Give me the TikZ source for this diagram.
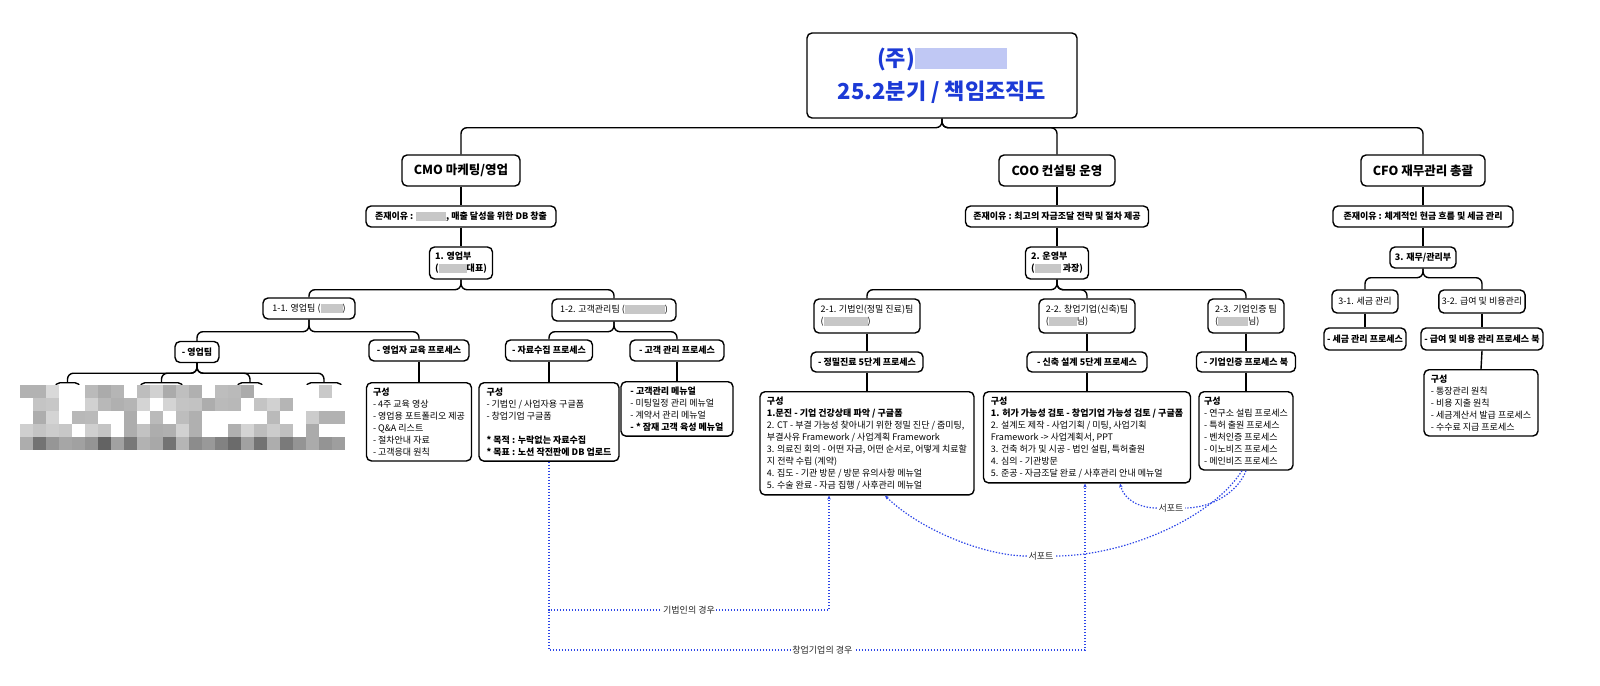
\documentclass[tikz,border=0pt]{standalone}
\usepackage{fontspec}
\setmainfont{Noto Sans CJK KR}
\usetikzlibrary{arrows.meta}
\definecolor{ttl}{RGB}{28,58,214}
\definecolor{dotc}{RGB}{45,70,232}
\newcommand{\fs}{\fontsize{9}{12}\selectfont}
\newcommand{\blurg}[1]{\textcolor{black!22}{\rule[-1.5pt]{#1pt}{9pt}}}
\begin{document}
\begin{tikzpicture}[x=1pt,y=-1pt,
  box/.style={draw, line width=1.4pt, rounded corners=5pt, fill=white, inner ysep=0pt, inner xsep=3pt, align=center},
  bbox/.style={box, font=\bfseries\fs, minimum height=21pt},
  nbox/.style={box, font=\fs, align=left},
  head/.style={box, font=\bfseries\fontsize{12.5}{14}\selectfont, minimum height=31pt},
  gbox/.style={draw, line width=1.4pt, rounded corners=5pt, fill=white, inner xsep=5pt, inner ysep=5pt, font=\fs, align=left, anchor=north},
  edge/.style={line width=1.4pt, rounded corners=6pt},
  dotl/.style={draw=dotc, line width=1.2pt, dash pattern=on 1.4pt off 1.6pt},
  tip/.style={-{Stealth[length=4pt,width=3.5pt]}},
  lbl/.style={fill=white, inner sep=1.5pt, font=\fs, text=black!85}]
\fill[white] (0,0) rectangle (1600,685);
\useasboundingbox (0,0) rectangle (1600,685);

% title
\node[box, minimum width=270pt, minimum height=85pt, font=\bfseries\fontsize{22}{33}\selectfont, text=ttl] (title) at (942,75.5)
  {(주)\textcolor{ttl!28}{\rule[-3pt]{92pt}{21pt}}\\25.2분기 / 책임조직도};

% heads
\node[head, minimum width=118pt] (cmo) at (461,170.5) {CMO 마케팅/영업};
\node[head, minimum width=116pt] (coo) at (1057,170.5) {COO 컨설팅 운영};
\node[head, minimum width=124pt] (cfo) at (1423,170.5) {CFO 재무관리 총괄};

% reasons
\node[bbox, minimum width=190pt] (cmoR) at (461,216.5) {존재이유 : \blurg{30}, 매출 달성을 위한 DB 창출};
\node[bbox, minimum width=183pt] (cooR) at (1057,216.5) {존재이유 : 최고의 자금조달 전략 및 절차 제공};
\node[bbox, minimum width=180pt] (cfoR) at (1423,216.5) {존재이유 : 체계적인 현금 흐름 및 세금 관리};

% departments
\node[box, font=\bfseries\fs, align=left, minimum width=63pt, minimum height=32pt] (d1) at (461,263) {1. 영업부\\(\blurg{28}대표)};
\node[box, font=\bfseries\fs, align=left, minimum width=63pt, minimum height=32pt] (d2) at (1057,263) {2. 운영부\\(\blurg{26} 과장)};
\node[bbox, minimum width=66pt] (d3) at (1423,257.5) {3. 재무/관리부};

% teams
\node[nbox, minimum width=92pt, minimum height=21pt] (t11) at (309,308.5) {1-1. 영업팀 (\blurg{22})};
\node[nbox, minimum width=124pt, minimum height=22pt] (t12) at (614,310) {1-2. 고객관리팀 (\blurg{40})};
\node[nbox, minimum width=106pt, minimum height=34pt] (t21) at (867,316) {2-1. 기법인(정밀 진료)팀\\(\blurg{44})};
\node[nbox, minimum width=96pt, minimum height=34pt] (t22) at (1087,316) {2-2. 창업기업(신축)팀\\(\blurg{28}님)};
\node[nbox, minimum width=76pt, minimum height=34pt] (t23) at (1246,316) {2-3. 기업인증 팀\\(\blurg{30}님)};
\node[nbox, minimum width=66pt, minimum height=23pt] (t31) at (1365,301.5) {3-1. 세금 관리};
\node[nbox, minimum width=78pt, minimum height=23pt] (t32) at (1482,301.5) {3-2. 급여 및 비용관리};

% process boxes
\node[bbox, minimum width=44pt] (p11a) at (197,352) {- 영업팀};
\node[bbox, minimum width=100pt] (p11b) at (419,350.5) {- 영업자 교육 프로세스};
\node[bbox, minimum width=87pt] (p12a) at (549,350.5) {- 자료수집 프로세스};
\node[bbox, minimum width=94pt] (p12b) at (677,350.5) {- 고객 관리 프로세스};
\node[bbox, minimum width=112pt, minimum height=20pt] (p21) at (867,362) {- 정밀진료 5단계 프로세스};
\node[bbox, minimum width=120pt, minimum height=20pt] (p22) at (1087,362) {- 신축 설계 5단계 프로세스};
\node[bbox, minimum width=99pt, minimum height=20pt] (p23) at (1246,362) {- 기업인증 프로세스 북};
\node[bbox, minimum width=82pt, minimum height=22pt] (p31) at (1365,339) {- 세금 관리 프로세스};
\node[bbox, minimum width=122pt, minimum height=22pt] (p32) at (1482,339) {- 급여 및 비용 관리 프로세스 북};

% detail boxes
\node[gbox, minimum width=105pt] (c11b) at (419,382) {\textbf{구성}\\- 4주 교육 영상\\- 영업용 포트폴리오 제공\\- Q\&A 리스트\\- 절차안내 자료\\- 고객응대 원칙};
\node[gbox, minimum width=140pt] (c12a) at (549,382) {\textbf{구성}\\- 기법인 / 사업자용 구글폼\\- 창업기업 구글폼\\[12pt]\textbf{* 목적 : 누락없는 자료수집}\\\textbf{* 목표 : 노션 작전판에 DB 업로드}};
\node[gbox, minimum width=112pt] (c12b) at (677,381) {\textbf{- 고객관리 메뉴얼}\\- 미팅일정 관리 메뉴얼\\- 계약서 관리 메뉴얼\\\textbf{- * 잠재 고객 육성 메뉴얼}};
\node[gbox, minimum width=214pt] (c21) at (867,391) {\textbf{구성}\\\textbf{1.문진 - 기업 건강상태 파악 / 구글폼}\\2. CT - 부결 가능성 찾아내기 위한 정밀 진단 / 줌미팅,\\부결사유 Framework / 사업계획 Framework\\3. 의료진 회의 - 어떤 자금, 어떤 순서로, 어떻게 치료할\\지 전략 수립 (계약)\\4. 집도 - 기관 방문 / 방문 유의사항 메뉴얼\\5. 수술 완료 - 자금 집행 / 사후관리 메뉴얼};
\node[gbox, minimum width=207pt] (c22) at (1087,391) {\textbf{구성}\\\textbf{1. 허가 가능성 검토 - 창업기업 가능성 검토 / 구글폼}\\2. 설계도 제작 - 사업기획 / 미팅, 사업기획\\Framework -> 사업계획서, PPT\\3. 건축 허가 및 시공 - 법인 설립, 특허출원\\4. 심의 - 기관방문\\5. 준공 - 자금조달 완료 / 사후관리 안내 메뉴얼};
\node[gbox, minimum width=94pt] (c23) at (1246,391) {\textbf{구성}\\- 연구소 설립 프로세스\\- 특허 출원 프로세스\\- 벤처인증 프로세스\\- 이노비즈 프로세스\\- 메인비즈 프로세스};
\node[gbox, minimum width=114pt] (c32) at (1481,369) {\textbf{구성}\\- 통장관리 원칙\\- 비용 지출 원칙\\- 세금계산서 발급 프로세스\\- 수수료 지급 프로세스};

% hidden (blurred) boxes under 영업팀
\node[box, anchor=north, minimum width=25pt, minimum height=30pt] (h1) at (67.5,382) {};
\node[box, anchor=north, minimum width=43pt, minimum height=30pt] (h2) at (161.5,382) {};
\node[box, anchor=north, minimum width=26pt, minimum height=30pt] (h3) at (250,382) {};
\node[box, anchor=north, minimum width=36pt, minimum height=30pt] (h4) at (324,382) {};

% tree connectors
\draw[edge] (title.south) -- ++(0,9) -| (cmo.north);
\draw[edge] (title.south) -- ++(0,9) -| (coo.north);
\draw[edge] (title.south) -- ++(0,9) -| (cfo.north);
\draw[edge] (cmo.south) -- (cmoR.north);
\draw[edge] (coo.south) -- (cooR.north);
\draw[edge] (cfo.south) -- (cfoR.north);
\draw[edge] (cmoR.south) -- (d1.north);
\draw[edge] (cooR.south) -- (d2.north);
\draw[edge] (cfoR.south) -- (d3.north);
\draw[edge] (d1.south) -- ++(0,10) -| (t11.north);
\draw[edge] (d1.south) -- ++(0,10) -| (t12.north);
\draw[edge] (d2.south) -- ++(0,10) -| (t21.north);
\draw[edge] (d2.south) -- ++(0,10) -| (t22.north);
\draw[edge] (d2.south) -- ++(0,10) -| (t23.north);
\draw[edge] (d3.south) -- ++(0,9) -| (t31.north);
\draw[edge] (d3.south) -- ++(0,9) -| (t32.north);
\draw[edge] (t11.south) -- ++(0,12) -| (p11a.north);
\draw[edge] (t11.south) -- ++(0,12) -| (p11b.north);
\draw[edge] (t12.south) -- ++(0,10) -| (p12a.north);
\draw[edge] (t12.south) -- ++(0,10) -| (p12b.north);
\draw[edge] (t21.south) -- (p21.north);
\draw[edge] (t22.south) -- (p22.north);
\draw[edge] (t23.south) -- (p23.north);
\draw[edge] (t31.south) -- (p31.north);
\draw[edge] (t32.south) -- (p32.north);
\draw[edge] (p11b.south) -- (c11b.north);
\draw[edge] (p12a.south) -- (c12a.north);
\draw[edge] (p12b.south) -- (c12b.north);
\draw[edge] (p21.south) -- (c21.north);
\draw[edge] (p22.south) -- (c22.north);
\draw[edge] (p23.south) -- (c23.north);
\draw[edge] (p32.south) -- (c32.north);
\foreach \h in {h1,h2,h3,h4} \draw[edge] (p11a.south) -- ++(0,10) -| (\h.north);

% mosaic over blurred area
\pgfmathsetseed{7}
\foreach \i in {0,...,24} {
  \foreach \j in {0,...,4} {
    \pgfmathsetmacro{\r}{rnd}
    \pgfmathtruncatemacro{\lvl}{\j==4 ? 28+38*\r : (\r<0.35 ? 0 : 6+28*\r)}
    \fill[black!\lvl] (20+13*\i,385+13*\j) rectangle ++(13,13);
  }
}

% dotted connectors
\draw[dotl, tip] (c12a.south) |- node[lbl, pos=0.75] {기법인의 경우} ([xshift=-38pt]c21.south |- 0,610) -- ([xshift=-38pt]c21.south);
\draw[dotl, tip] (c12a.south) |- node[lbl, pos=0.755] {창업기업의 경우} ([xshift=-2pt]c22.south |- 0,650) -- ([xshift=-2pt]c22.south);
\node[lbl] (s1) at (1041,556) {서포트};
\node[lbl] (s2) at (1171,508) {서포트};
\draw[dotl] ([xshift=-4pt]c23.south) .. controls (1212,518) and (1125,556) .. (s1.east);
\draw[dotl, tip] (s1.west) .. controls (985,556) and (920,530) .. ([xshift=18pt]c21.south);
\draw[dotl] (c23.south) .. controls (1238,492) and (1212,508) .. (s2.east);
\draw[dotl, tip] (s2.west) .. controls (1140,508) and (1124,500) .. ([xshift=33pt]c22.south);
\end{tikzpicture}
\end{document}
